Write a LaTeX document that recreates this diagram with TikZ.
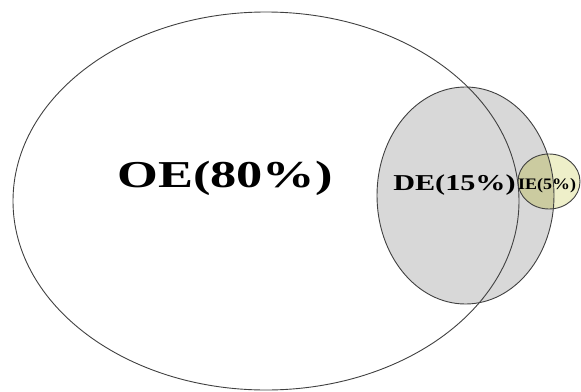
\documentclass[tikz,border=0pt]{standalone}
\usepackage{fontspec}
\setmainfont{Liberation Serif}
\usepackage{xcolor}
\usetikzlibrary{positioning}

\definecolor{degray}{HTML}{D8D8D8}
\definecolor{ielight}{HTML}{EEEFC9}
\definecolor{iedark}{HTML}{CBCBA0}

\tikzset{
	rim/.style={line width=0.9pt, black!75},
	share/.style={inner sep=0pt, anchor=base west, font=\bfseries}
}

\begin{document}
\begin{tikzpicture}[x=1pt, y=-1pt]
		\useasboundingbox (0,0) rectangle (581,391);
		\fill[degray] (465.5,195.5) ellipse (88.5 and 108.5);
		\fill[ielight] (549,181.5) ellipse (31 and 27.5);
		\begin{scope}
			\clip (465.5,195.5) ellipse (88.5 and 108.5);
			\fill[iedark] (549,181.5) ellipse (31 and 27.5);
		\end{scope}
		\draw[rim] (266,201) ellipse (253 and 189);%OE
		\draw[rim] (465.5,195.5) ellipse (88.5 and 108.5);%DE
		\draw[rim] (549,181.5) ellipse (31 and 27.5);%IE
		\node[share, xscale=1.38, font=\bfseries\fontsize{38}{38}\selectfont] (oe) at (117,187) {OE(80\%)};
		\node[share, xscale=1.33, font=\bfseries\fontsize{22.7}{22.7}\selectfont] (de) at (393,190) {DE(15\%)};
		\node[share, xscale=1.12, font=\bfseries\fontsize{16}{16}\selectfont] (ie) at (518,189) {IE(5\%)};
	\end{tikzpicture}
\end{document}
